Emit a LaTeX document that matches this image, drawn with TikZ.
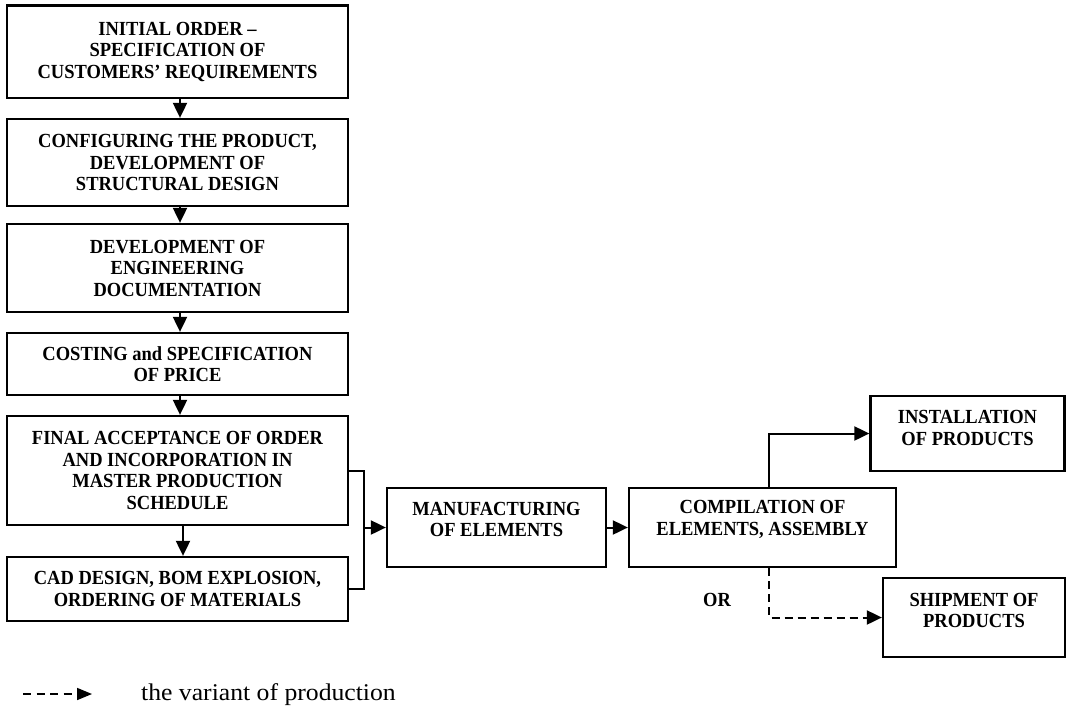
\documentclass[tikz,border=0pt]{standalone}
\usepackage{fontspec}
\setmainfont{Liberation Serif}
\newfontfamily\boxfont[FakeStretch=0.925,Ligatures=TeX]{Liberation Serif}
\newfontfamily\legendfont[FakeStretch=1.07,Ligatures=TeX]{Liberation Serif}
\usetikzlibrary{arrows.meta}
\begin{document}
\begin{tikzpicture}[x=1pt,y=-1pt,
  box/.style={draw, rectangle, line width=2.3pt, inner sep=0pt},
  lbl/.style={font=\boxfont\bfseries\fontsize{20}{21.5}\selectfont, align=center, inner sep=0pt},
  conn/.style={line width=2pt, -{Triangle[length=15pt,width=14pt]}},
  plain/.style={line width=2pt},
  alt/.style={conn, dash pattern=on 8pt off 5pt},
]
\useasboundingbox (0,0) rectangle (1069,713);

% main chain of order processing steps
\node[box, minimum width=341pt, minimum height=92.5pt,
  label={[lbl]center:{INITIAL ORDER –\\SPECIFICATION OF\\CUSTOMERS’ REQUIREMENTS}}]
  (b1) at (177.5,51.75) {};
\node[box, minimum width=341pt, minimum height=87pt,
  label={[lbl]center:{CONFIGURING THE PRODUCT,\\DEVELOPMENT OF\\STRUCTURAL DESIGN}}]
  (b2) at (177.5,162.5) {};
\node[box, minimum width=341pt, minimum height=88pt,
  label={[lbl]center:{DEVELOPMENT OF\\ENGINEERING\\DOCUMENTATION}}]
  (b3) at (177.5,268) {};
\node[box, minimum width=341pt, minimum height=62pt,
  label={[lbl]center:{COSTING and SPECIFICATION\\OF PRICE}}]
  (b4) at (177.5,364) {};
\node[box, minimum width=341pt, minimum height=109pt,
  label={[lbl]center:{FINAL ACCEPTANCE OF ORDER\\AND INCORPORATION IN\\MASTER PRODUCTION\\SCHEDULE}}]
  (b5) at (177.5,470.5) {};
\node[box, minimum width=341pt, minimum height=64pt,
  label={[lbl]center:{CAD DESIGN, BOM EXPLOSION,\\ORDERING OF MATERIALS}}]
  (b6) at (177.5,589) {};

% production steps
\node[box, minimum width=219pt, minimum height=79pt,
  label={[lbl, yshift=8pt]center:{MANUFACTURING\\OF ELEMENTS}}]
  (man) at (496.5,527.5) {};
\node[box, minimum width=267pt, minimum height=79pt,
  label={[lbl, yshift=8pt]center:{COMPILATION OF\\ELEMENTS, ASSEMBLY}}]
  (comp) at (762.5,527.5) {};
\node[box, minimum width=194pt, minimum height=75pt,
  label={[lbl, yshift=5.5pt]center:{INSTALLATION\\OF PRODUCTS}}]
  (inst) at (967.5,433.5) {};
\node[box, minimum width=182pt, minimum height=79pt,
  label={[lbl, yshift=7pt]center:{SHIPMENT OF\\PRODUCTS}}]
  (ship) at (974,617.5) {};

\node[lbl] (or) at (717,600) {OR};

% vertical flow
\draw[conn] ([xshift=2.5pt]b1.south) -- ([xshift=2.5pt]b2.north);
\draw[conn] ([xshift=2.5pt]b2.south) -- ([xshift=2.5pt]b3.north);
\draw[conn] ([xshift=2.5pt]b3.south) -- ([xshift=2.5pt]b4.north);
\draw[conn] ([xshift=2.5pt]b4.south) -- ([xshift=2.5pt]b5.north);
\draw[conn] ([xshift=5.5pt]b5.south) -- ([xshift=5.5pt]b6.north);

% bracket joining the last two steps
\path (b5.east) ++(15,0) coordinate (bk0);
\coordinate (bk) at (bk0 |- man.west);
\draw[plain] (b5.east) -- (bk0) |- (b6.east);
\draw[conn] (bk) -- (man.west);
\draw[conn] (man.east) -- (comp.west);

% the two outcomes
\coordinate (cu) at ([xshift=6.5pt]comp.north);
\coordinate (cd) at ([xshift=6.5pt]comp.south);
\draw[conn] (cu) |- (inst.west);
\draw[alt] (cd) |- (ship.west);

% legend
\coordinate (la) at (23,694);
\coordinate (lb) at (92,694);
\draw[alt, -{Triangle[length=15pt,width=12pt]}, line width=1.6pt, dash pattern=on 8pt off 5.5pt] (la) -- (lb);
\node[anchor=west, inner sep=0pt, font=\legendfont\fontsize{24}{28}\selectfont] (lt) at (141,695) {the variant of production};
\end{tikzpicture}
\end{document}
